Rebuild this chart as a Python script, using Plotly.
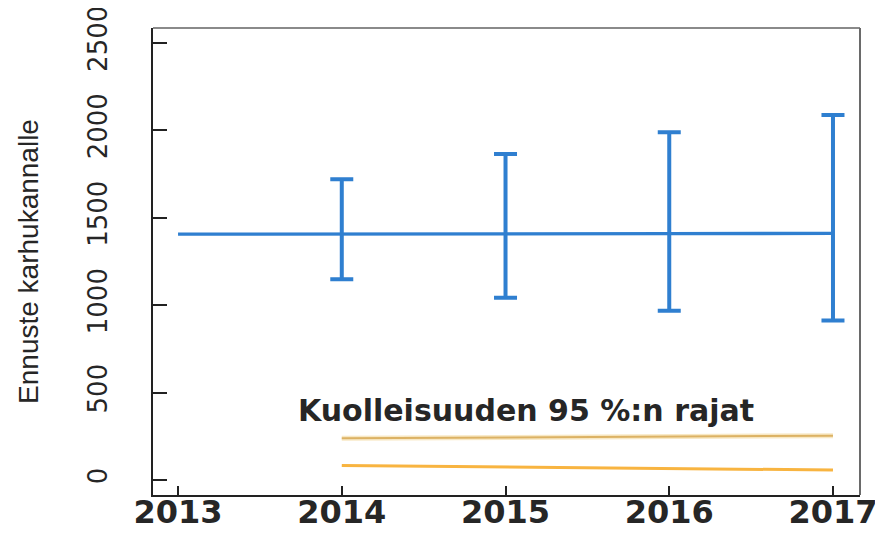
import plotly.graph_objects as go

years = [2013, 2014, 2015, 2016, 2017]
forecast = [1405, 1405, 1406, 1408, 1410]
err_years = [2014, 2015, 2016, 2017]
err_center = [1405, 1406, 1408, 1410]
err_upper = [1719, 1864, 1988, 2087]
err_lower = [1147, 1042, 968, 911]
mort_years = [2014, 2017]
mort_upper = [238, 253]
mort_lower = [82, 57]
y_ticks = [0, 500, 1000, 1500, 2000, 2500]
x_ticks = [2013, 2014, 2015, 2016, 2017]

blue = "#2f7fd0"
txt = "#262626"

fig = go.Figure()
fig.add_trace(go.Scatter(x=years, y=forecast, mode="lines",
                         line=dict(color=blue, width=3.3), showlegend=False))
fig.add_trace(go.Scatter(
    x=err_years, y=err_center, mode="markers",
    marker=dict(size=0.1, color=blue),
    error_y=dict(type="data", symmetric=False,
                 array=[u - c for u, c in zip(err_upper, err_center)],
                 arrayminus=[c - l for l, c in zip(err_lower, err_center)],
                 color=blue, thickness=4, width=11.5),
    showlegend=False))
fig.add_trace(go.Scatter(x=mort_years, y=mort_upper, mode="lines",
                         line=dict(color="#f8e8c4", width=5), showlegend=False))
fig.add_trace(go.Scatter(x=mort_years, y=mort_upper, mode="lines",
                         line=dict(color="#dcb264", width=2), showlegend=False))
fig.add_trace(go.Scatter(x=mort_years, y=mort_lower, mode="lines",
                         line=dict(color="#f8b440", width=3), showlegend=False))

fig.add_annotation(x=2013.72, y=400, xref="x", yref="y", xanchor="left",
                   yanchor="middle", text="Kuolleisuuden 95 %:n rajat",
                   showarrow=False,
                   font=dict(family="DejaVu Sans", size=30, color=txt, weight="bold"))

# top and right frame lines (lighter grey in the reference)
fig.add_shape(type="line", xref="paper", yref="paper", x0=0, x1=1, y0=1, y1=1,
              line=dict(color="#8a8a8a", width=2))
fig.add_shape(type="line", xref="paper", yref="paper", x0=1, x1=1, y0=0, y1=1,
              line=dict(color="#6a6a6a", width=2))

# page body has an 8px margin, so the figure is sized/offset to compensate
fig.update_layout(
    width=875, height=525,
    margin=dict(l=145, r=23, t=20, b=38),
    paper_bgcolor="white", plot_bgcolor="white",
    xaxis=dict(range=[2012.847, 2017.165], tickvals=x_ticks,
               ticktext=[str(v) for v in x_ticks], automargin=False,
               ticks="inside", ticklen=9, tickwidth=1.5, tickcolor="#222",
               showline=True, linecolor="#222", linewidth=2, mirror=False,
               showgrid=False, zeroline=False, ticklabelstandoff=-12,
               ticklabeloverflow="allow",
               tickfont=dict(family="DejaVu Sans", size=32, color=txt, weight="bold")),
    yaxis=dict(range=[-86, 2584], tickvals=y_ticks, automargin=False,
               ticks="inside", ticklen=14, tickwidth=1.5, tickcolor="#222",
               showline=True, linecolor="#222", linewidth=2, mirror=False,
               showgrid=False, zeroline=False, tickangle=-90,
               ticklabelstandoff=34, ticklabeloverflow="allow",
               title=dict(text="Ennuste karhukannalle", standoff=36,
                          font=dict(family="Liberation Sans", size=28, color=txt)),
               tickfont=dict(family="DejaVu Sans", size=26, color=txt)),
)

fig.write_html("out.html")
